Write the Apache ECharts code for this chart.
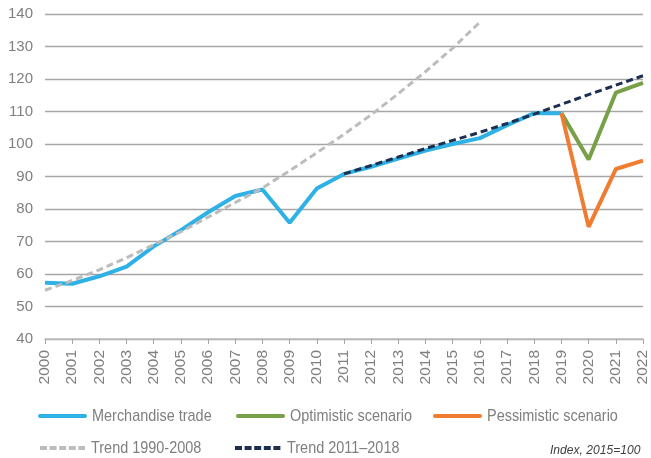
<!DOCTYPE html>
<html><head><meta charset="utf-8">
<script src="https://cdn.jsdelivr.net/npm/echarts@6/dist/echarts.min.js"></script>
<style>html,body{margin:0;padding:0;background:#fff}#c{width:651px;height:458px}</style>
</head><body><div id="c"></div>
<script>
const years = ['2000','2001','2002','2003','2004','2005','2006','2007','2008','2009','2010','2011','2012','2013','2014','2015','2016','2017','2018','2019','2020','2021','2022'];
const merchandise = [57.3,57.0,59.3,62.3,68.5,73.5,79.0,84.0,86.0,75.8,86.3,90.8,93.0,95.5,98.0,100.0,101.8,105.8,109.5,109.5,null,null,null];
const optimistic = [null,null,null,null,null,null,null,null,null,null,null,null,null,null,null,null,null,null,null,109.5,95.2,115.8,118.8];
const pessimistic = [null,null,null,null,null,null,null,null,null,null,null,null,null,null,null,null,null,null,null,109.5,74.5,92.3,94.9];
const trend1990 = [55.0,58.0,61.3,65.0,69.0,73.0,77.5,82.0,86.5,91.8,97.3,103.0,109.0,115.5,122.3,129.5,137.5,null,null,null,null,null,null];
const trend2011 = [null,null,null,null,null,null,null,null,null,null,null,90.8,93.4,96.0,98.6,101.1,103.6,106.3,109.2,112.2,115.2,118.1,121.0];
const yTicks = {min:40, max:140, interval:10};
const seriesNames = ['Merchandise trade','Optimistic scenario','Pessimistic scenario','Trend 1990-2008','Trend 2011–2018'];
const note = 'Index, 2015=100';

const txt = '#7f7f7f';
const colors = ['#2fb1e5','#78a048','#ef7c31','#bcbcbc','#1c2f50'];
const dashed = [false,false,false,true,true];
// [iconStart, iconEnd, textStart, y]
const legPos = [[38,87,92,416],[236,285,290,416],[433,482,487,416],[40,85,91,448],[235,283,287,448]];

const graphics = [];
seriesNames.forEach((n,i)=>{
  const [a,b,t,y] = legPos[i];
  graphics.push({type:'line', shape:{x1:a+(dashed[i]?0:2), y1:y, x2:b-(dashed[i]?0:2), y2:y},
    style:{stroke:colors[i], lineWidth:4, lineCap:dashed[i]?'butt':'round', lineDash:dashed[i]?[7,2.6]:null}});
  graphics.push({type:'text', x:t, y:y, scaleX:0.85,
    style:{text:n, fill:txt, font:'17px "Liberation Sans",Arial,sans-serif', verticalAlign:'middle', align:'left'}});
});
graphics.push({type:'text', x:550, y:450, scaleX:0.93,
  style:{text:note, fill:'#404040', font:'italic 13px "Liberation Sans",Arial,sans-serif', verticalAlign:'middle', align:'left'}});

const chart = echarts.init(document.getElementById('c'), null, {renderer:'canvas'});
function mk(i, data){
  return {name:seriesNames[i], type:'line', data:data, symbol:'none',
    lineStyle:{color:colors[i], width:dashed[i]?3:4, type:dashed[i]?[7,4]:'solid'}, itemStyle:{color:colors[i]}};
}
chart.setOption({
  animation:false,
  grid:{left:45, right:5, top:14, bottom:119},
  xAxis:{type:'category', data:years, boundaryGap:false,
    axisLine:{lineStyle:{color:'#bfbfbf', width:1.5}},
    axisTick:{show:true, length:5, lineStyle:{color:'#a6a6a6'}},
    axisLabel:{rotate:90, interval:0, margin:11, color:txt, fontSize:15.5, fontFamily:'"Liberation Sans",Arial,sans-serif'}},
  yAxis:{type:'value', min:yTicks.min, max:yTicks.max, interval:yTicks.interval,
    axisLine:{show:false}, axisTick:{show:false},
    splitLine:{lineStyle:{color:'#a6a6a6', width:1.3}},
    axisLabel:{margin:12, color:txt, fontSize:15, fontFamily:'"Liberation Sans",Arial,sans-serif'}},
  graphic:graphics,
  series:[
    mk(0, merchandise), mk(1, optimistic), mk(2, pessimistic), mk(3, trend1990), mk(4, trend2011)
  ]
});
</script></body></html>
